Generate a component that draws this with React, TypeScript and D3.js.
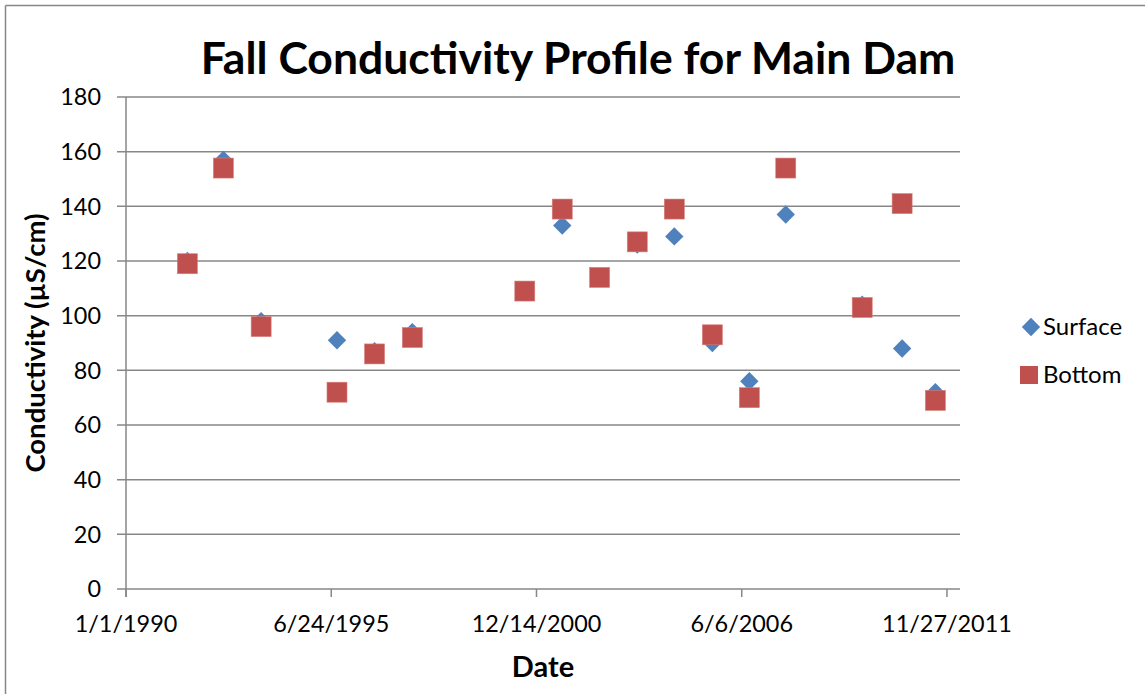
import React from "react";
import * as d3 from "d3";

const dates: string[] = [
  "1991-08-22", "1992-08-07", "1993-08-10", "1995-08-19", "1996-08-19", "1997-08-22",
  "2000-08-22", "2001-08-22", "2002-08-21", "2003-08-23", "2004-08-18", "2005-08-24",
  "2006-08-19", "2007-08-09", "2009-08-23", "2010-09-16", "2011-08-06",
];
const surface: number[] = [120, 157, 98, 91, 87, 94, 109, 133, 114, 126, 129, 90, 76, 137, 104, 88, 72];
const bottom: number[] = [119, 154, 96, 72, 86, 92, 109, 139, 114, 127, 139, 93, 70, 154, 103, 141, 69];
const xTickDates: string[] = ["1990-01-01", "1995-06-24", "2000-12-14", "2006-06-06", "2011-11-27"];
const xDomain: string[] = ["1990-01-01", "2012-04-02"];
const yTicks: number[] = [0, 20, 40, 60, 80, 100, 120, 140, 160, 180];
const seriesNames: string[] = ["Surface", "Bottom"];
const titleText = "Fall Conductivity Profile for Main Dam";
const xTitle = "Date";
const yTitle = "Conductivity (µS/cm)";

const W = 1145;
const H = 694;
const FONT = "Lato, 'Open Sans', sans-serif";
const BLUE = "#4F81BD";
const RED = "#C0504D";
const GRID = "#878787";

const parse = d3.utcParse("%Y-%m-%d");
const fmt = d3.utcFormat("%-m/%-d/%Y");

export default function App() {
  const x = d3.scaleUtc().domain(xDomain.map((d) => parse(d) as Date)).range([126, 960]);
  const y = d3.scaleLinear().domain([0, 180]).range([589, 97]);
  const diamond = d3.symbol().type(d3.symbolDiamond2).size(215)();
  const dd = dates.map((d) => parse(d) as Date);
  const [x0, x1] = x.range();
  const sq = 20;

  return (
    <svg width={W} height={H} style={{ position: "absolute", left: 0, top: 0, display: "block", background: "#fff" }}>
      <rect x={0} y={0} width={W} height={H} fill="#fff" />
      <line x1={5.5} y1={5.5} x2={W} y2={5.5} stroke={GRID} strokeWidth={1.5} />
      <line x1={5.5} y1={5.5} x2={5.5} y2={H} stroke={GRID} strokeWidth={1.5} />

      <text x={578} y={74} textAnchor="middle" fontFamily={FONT} fontWeight="bold" fontSize={44.5} fill="#000">
        {titleText}
      </text>

      {yTicks.map((t) => (
        <g key={"y" + t}>
          <line x1={117} x2={x1} y1={y(t)} y2={y(t)} stroke={GRID} strokeWidth={1.5} />
          <text x={101} y={y(t)} dy="0.35em" textAnchor="end" fontFamily={FONT} fontSize={23.4} fill="#000">
            {t}
          </text>
        </g>
      ))}
      <line x1={x0} x2={x0} y1={y(180)} y2={y(0) + 8} stroke={GRID} strokeWidth={1.5} />
      {xTickDates.map((s) => {
        const d = parse(s) as Date;
        return (
          <g key={s}>
            <line x1={x(d)} x2={x(d)} y1={y(0)} y2={y(0) + 8} stroke={GRID} strokeWidth={1.5} />
            <text x={x(d)} y={624} dy="0.35em" textAnchor="middle" fontFamily={FONT} fontSize={23.4} fill="#000">
              {fmt(d)}
            </text>
          </g>
        );
      })}

      <text x={543} y={667} dy="0.35em" textAnchor="middle" fontFamily={FONT} fontWeight="bold" fontSize={29} fill="#000">
        {xTitle}
      </text>
      <text
        transform={`translate(35,343) rotate(-90)`}
        dy="0.35em"
        textAnchor="middle"
        fontFamily={FONT}
        fontWeight="bold"
        fontSize={27.5}
        fill="#000"
      >
        {yTitle}
      </text>

      {dd.map((d, i) => (
        <path key={"s" + i} d={diamond as string} transform={`translate(${x(d)},${y(surface[i])})`} fill={BLUE} />
      ))}
      {dd.map((d, i) => (
        <rect
          key={"b" + i}
          x={x(d) - sq / 2}
          y={y(bottom[i]) - sq / 2}
          width={sq}
          height={sq}
          fill={RED}
          stroke="#d77e7b"
          strokeWidth={0.6}
        />
      ))}

      <g>
        <path d={diamond as string} transform="translate(1031,327)" fill={BLUE} />
        <text x={1043} y={327} dy="0.35em" fontFamily={FONT} fontSize={24} fill="#000">
          {seriesNames[0]}
        </text>
        <rect x={1020} y={366} width={18} height={18} fill={RED} />
        <text x={1043} y={375} dy="0.35em" fontFamily={FONT} fontSize={24} fill="#000">
          {seriesNames[1]}
        </text>
      </g>
    </svg>
  );
}
